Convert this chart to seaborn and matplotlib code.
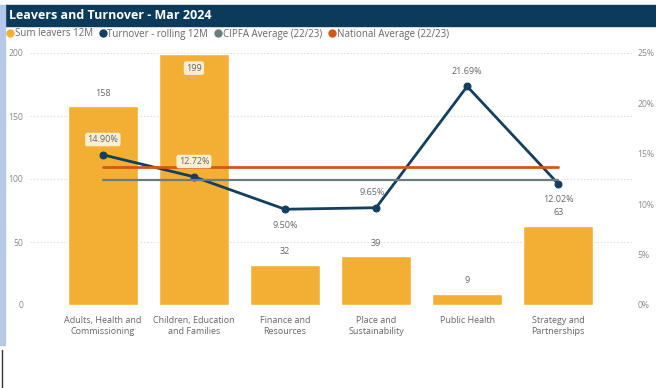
import numpy as np
import pandas as pd
import matplotlib
matplotlib.use("Agg")
import matplotlib.pyplot as plt
from matplotlib.lines import Line2D
from matplotlib.patches import Rectangle
import seaborn as sns

# Data
categories = ["Adults, Health and\nCommissioning", "Children, Education\nand Families",
              "Finance and\nResources", "Place and\nSustainability",
              "Public Health", "Strategy and\nPartnerships"]
leavers = [158, 199, 32, 39, 9, 63]
turnover = [14.90, 12.72, 9.50, 9.65, 21.69, 12.02]
cipfa_avg = 12.4
national_avg = 13.7
left_ticks = [0, 50, 100, 150, 200]
right_ticks = [0, 5, 10, 15, 20, 25]
legend_labels = ["Sum leavers 12M", "Turnover - rolling 12M",
                 "CIPFA Average (22/23)", "National Average (22/23)"]

BAR = "#F2AF33"
NAVY = "#143F5E"
GREY = "#6E7B80"
ORANGE = "#D2571C"
TXT = "#666666"

sns.set_theme(style="white")
plt.rcParams["font.family"] = ["Open Sans", "DejaVu Sans"]

fig = plt.figure(figsize=(6.56, 3.88), dpi=100)
ax = fig.add_axes([30 / 656, 83 / 388, 602 / 656, 252 / 388])
ax2 = ax.twinx()

df = pd.DataFrame({"cat": categories, "leavers": leavers, "turnover": turnover})
sns.barplot(data=df, x="cat", y="leavers", color=BAR, saturation=1, width=0.77, ax=ax)

xs = np.arange(len(categories))
sns.lineplot(x=xs, y=turnover, color=NAVY, lw=2, marker="o", markersize=5,
             markeredgecolor=NAVY, ax=ax2)
sns.lineplot(x=[xs[0], xs[-1]], y=[national_avg] * 2, color=ORANGE, lw=2, ax=ax2)
sns.lineplot(x=[xs[0], xs[-1]], y=[cipfa_avg] * 2, color=GREY, lw=1.6, ax=ax2)

ax.set_xlim(-0.8, 5.81)
ax.set_ylim(0, 200)
ax2.set_ylim(0, 25)
ax.set_yticks(left_ticks)
ax2.set_yticks(right_ticks)
ax2.set_yticklabels([f"{t}%" for t in right_ticks])
ax.set_xlabel("")
ax.set_ylabel("")
ax2.set_ylabel("")
for a in (ax, ax2):
    for s in a.spines.values():
        s.set_visible(False)
    a.tick_params(axis="both", length=0, labelsize=6.2, labelcolor="#8a8a8a")
ax.tick_params(axis="y", pad=5)
ax2.tick_params(axis="y", pad=4)
ax.tick_params(axis="x", labelsize=6.5, labelcolor=TXT, pad=8)
for t in left_ticks:
    ax.axhline(t, color="#e2e2e2", lw=0.8, ls=(0, (1.5, 1.5)), zorder=0)
ax.set_zorder(0)
ax2.set_zorder(1)
ax2.patch.set_visible(False)

box = dict(boxstyle="round,pad=0.25", fc="#fbf2dc", ec="none", alpha=0.95)

# Bar value labels
for i, v in enumerate(leavers):
    if v >= 190:
        ax.annotate(f"{v}", (i, v), xytext=(0, -10), textcoords="offset points",
                    ha="center", va="center", fontsize=6.5, color=TXT, bbox=box)
    else:
        ax.annotate(f"{v}", (i, v), xytext=(0, 6), textcoords="offset points",
                    ha="center", va="bottom", fontsize=6.5, color=TXT)

# Turnover labels
offsets = [(0, 11), (0, 11), (0, -12), (-3, 11), (0, 11), (0, -11)]
for i, (v, off) in enumerate(zip(turnover, offsets)):
    kw = dict(bbox=box) if i < 2 else {}
    ax2.annotate(f"{v:.2f}%", (i, v), xytext=off, textcoords="offset points",
                 ha="center", va="center", fontsize=6.5, color=TXT, **kw)

# Header bar and frame details
fig.patches.append(Rectangle((5 / 656, 1 - 26 / 388), 651 / 656, 21 / 388,
                             transform=fig.transFigure, color="#0C3A5A", zorder=0))
fig.text(9 / 656, 1 - 15.5 / 388, "Leavers and Turnover - Mar 2024", color="white",
         fontsize=9, fontweight="bold", va="center", ha="left")
fig.patches.append(Rectangle((0, 1 - 345 / 388), 5 / 656, 340 / 388,
                             transform=fig.transFigure, color="#B4C8EC", zorder=0))
fig.lines.append(Line2D([2 / 656, 2 / 656], [0, 1 - 350 / 388], transform=fig.transFigure,
                        color="#333333", lw=1))

handles = [Line2D([], [], ls="none", marker="o", markersize=5, color=c)
           for c in (BAR, NAVY, GREY, ORANGE)]
fig.legend(handles, legend_labels, loc="center left", bbox_to_anchor=(7 / 656, 1 - 34 / 388),
           ncol=4, frameon=False, fontsize=7.0, handlelength=0.6, handletextpad=0.2,
           columnspacing=0.7, labelcolor="#666666", borderaxespad=0, borderpad=0)

fig.savefig("out.png", dpi=100)
